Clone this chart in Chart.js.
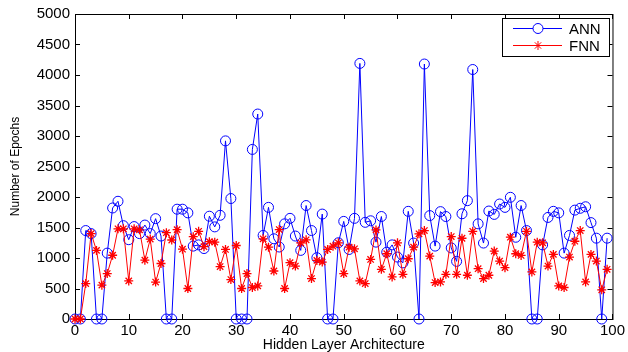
<!DOCTYPE html>
<html>
<head>
<meta charset="utf-8">
<script src="https://cdn.jsdelivr.net/npm/chart.js@4.4.0/dist/chart.umd.min.js"></script>
<style>
  html, body { margin: 0; padding: 0; background: #fff; }
  #wrap { width: 628px; height: 352px; }
</style>
</head>
<body>
<div id="wrap"><canvas id="epochChart" width="628" height="352"></canvas></div>
<script>
// ---- data ----
const xTicks = [0, 10, 20, 30, 40, 50, 60, 70, 80, 90, 100];
const yTicks = [0, 500, 1000, 1500, 2000, 2500, 3000, 3500, 4000, 4500, 5000];

// x = 0..99, one value per architecture
const annEpochs = [
  0, 0, 1450, 1400, 0, 0, 1080, 1820, 1930, 1530,
  1300, 1515, 1400, 1540, 1400, 1645, 1360, 0, 0, 1800,
  1800, 1740, 1195, 1215, 1155, 1685, 1510, 1700, 2920, 1975,
  0, 0, 0, 2780, 3360, 1370, 1830, 1315, 1180, 1560,
  1650, 1360, 1125, 1860, 1450, 1005, 1720, 0, 0, 1250,
  1600, 1140, 1650, 4190, 1585, 1610, 1260, 1680, 1095, 1215,
  1015, 920, 1765, 1245, 0, 4180, 1695, 1195, 1760, 1680,
  1165, 945, 1725, 1940, 4090, 1560, 1245, 1770, 1715, 1885,
  1830, 1995, 1340, 1860, 1450, 0, 0, 1215, 1665, 1765,
  1740, 1080, 1370, 1785, 1815, 1840, 1580, 1325, 0, 1325
];
const fnnEpochs = [
  0, 0, 580, 1400, 1125, 555, 745, 1045, 1478, 1478,
  625, 1478, 1462, 965, 1310, 605, 910, 1415, 1295, 1465,
  1145, 500, 1350, 1437, 1185, 1268, 1260, 860, 1140, 646,
  1205, 500, 744, 516, 543, 1314, 1178, 787, 1466, 500,
  923, 868, 1249, 1298, 663, 961, 933, 1140, 1194, 1249,
  744, 1178, 1151, 624, 581, 977, 1461, 814, 1070, 689,
  1249, 733, 988, 1178, 1396, 1450, 1031, 597, 608, 733,
  1352, 733, 1324, 717, 1438, 825, 663, 717, 1113, 950,
  842, 1341, 1070, 1042, 1438, 771, 1259, 1249, 868, 1059,
  543, 516, 1015, 1275, 1450, 608, 1059, 950, 478, 815
];

const seriesNames = ['ANN', 'FNN'];
const seriesColors = ['#0000ff', '#ff0000'];

const toPoints = arr => arr.map((v, i) => ({ x: i, y: v }));
const FONT = "'Liberation Sans', Arial, sans-serif";

// matlab-style box with inward ticks on all four sides
const boxTicks = {
  id: 'boxTicks',
  beforeDatasetsDraw(chart) {
    const { ctx, chartArea: a, scales } = chart;
    const len = 5;
    ctx.save();
    ctx.strokeStyle = '#000';
    ctx.lineWidth = 1;
    ctx.strokeRect(a.left + 0.5, a.top + 0.5, a.right - a.left, a.bottom - a.top);
    ctx.beginPath();
    xTicks.forEach(t => {
      const px = Math.round(scales.x.getPixelForValue(t)) + 0.5;
      ctx.moveTo(px, a.bottom); ctx.lineTo(px, a.bottom - len);
      ctx.moveTo(px, a.top); ctx.lineTo(px, a.top + len);
    });
    yTicks.forEach(t => {
      const py = Math.round(scales.y.getPixelForValue(t)) + 0.5;
      ctx.moveTo(a.left, py); ctx.lineTo(a.left + len, py);
      ctx.moveTo(a.right, py); ctx.lineTo(a.right - len, py);
    });
    ctx.stroke();
    ctx.restore();
  }
};

// legend box in the upper right corner, line + marker like matlab
const boxLegend = {
  id: 'boxLegend',
  afterDraw(chart) {
    const { ctx } = chart;
    const bx = 502, by = 18, bw = 107, bh = 38;
    ctx.save();
    ctx.fillStyle = '#fff';
    ctx.fillRect(bx, by, bw, bh);
    ctx.strokeStyle = '#000';
    ctx.lineWidth = 1;
    ctx.strokeRect(bx + 0.5, by + 0.5, bw, bh);
    chart.data.datasets.forEach((ds, i) => {
      const y = by + 10 + i * 17;
      ctx.strokeStyle = ds.borderColor;
      ctx.beginPath();
      ctx.moveTo(bx + 11, y + 0.5);
      ctx.lineTo(bx + 60, y + 0.5);
      ctx.stroke();
      Chart.helpers.drawPoint(ctx, {
        pointStyle: ds.pointStyle,
        radius: ds.pointRadius,
        borderWidth: 1
      }, bx + 36, y + 0.5);
      ctx.fillStyle = '#000';
      ctx.font = '15px ' + FONT;
      ctx.textBaseline = 'middle';
      ctx.fillText(seriesNames[i], bx + 67, y + 2);
    });
    ctx.restore();
  }
};

function renderChart() {
  const ctx = document.getElementById('epochChart').getContext('2d');
  new Chart(ctx, {
    type: 'line',
    data: {
      datasets: [
        {
          label: seriesNames[0],
          data: toPoints(annEpochs),
          borderColor: seriesColors[0],
          backgroundColor: 'rgba(0,0,0,0)',
          borderWidth: 1,
          pointStyle: 'circle',
          pointRadius: 5,
          pointBorderWidth: 1,
          pointBackgroundColor: 'rgba(0,0,0,0)',
          pointBorderColor: seriesColors[0],
          tension: 0,
          clip: false,
          order: 1
        },
        {
          label: seriesNames[1],
          data: toPoints(fnnEpochs),
          borderColor: seriesColors[1],
          backgroundColor: seriesColors[1],
          borderWidth: 1,
          pointStyle: 'star',
          pointRadius: 4.5,
          pointBorderWidth: 1.3,
          pointBorderColor: seriesColors[1],
          tension: 0,
          clip: false,
          order: 0
        }
      ]
    },
    options: {
      responsive: false,
      animation: false,
      devicePixelRatio: 1,
      layout: { padding: { top: 12, right: 12, left: 0, bottom: 0 } },
      plugins: {
        legend: { display: false },
        tooltip: { enabled: false }
      },
      scales: {
        x: {
          type: 'linear',
          min: 0,
          max: 100,
          grid: { display: false, drawTicks: false },
          border: { display: false },
          ticks: {
            stepSize: 10,
            padding: 3,
            color: '#000',
            maxRotation: 0,
            font: { family: FONT, size: 15 },
            callback: v => String(v)
          },
          title: {
            display: true,
            text: 'Hidden Layer Architecture',
            color: '#000',
            padding: { top: 0, bottom: 0 },
            font: { family: FONT, size: 14, lineHeight: 1 }
          },
          afterFit: s => { s.height = 33; }
        },
        y: {
          min: 0,
          max: 5000,
          grid: { display: false, drawTicks: false },
          border: { display: false },
          ticks: {
            stepSize: 500,
            padding: 5,
            color: '#000',
            font: { family: FONT, size: 15 },
            callback: v => String(v)
          },
          title: {
            display: true,
            text: 'Number of Epochs',
            color: '#000',
            padding: { top: 8, bottom: 2 },
            font: { family: FONT, size: 12 }
          },
          afterFit: s => { s.width = 75; }
        }
      }
    },
    plugins: [boxTicks, boxLegend]
  });
}

document.addEventListener('DOMContentLoaded', renderChart);
</script>
</body>
</html>
